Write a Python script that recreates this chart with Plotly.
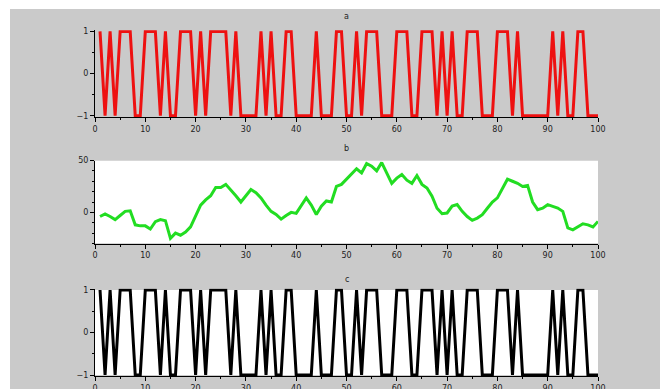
import plotly.graph_objects as go
from plotly.subplots import make_subplots

# ---- data ----
x_values = list(range(1, 101))

a_values = [1, -1, 1, -1, 1, 1, 1, -1, -1, 1,
            1, 1, -1, 1, -1, -1, 1, 1, 1, -1,
            1, -1, 1, 1, 1, 1, -1, 1, -1, -1,
            -1, -1, 1, -1, 1, -1, -1, 1, 1, -1,
            -1, -1, -1, 1, -1, -1, -1, 1, 1, -1,
            -1, 1, -1, 1, 1, 1, -1, -1, -1, 1,
            1, 1, -1, -1, 1, 1, 1, -1, 1, -1,
            1, -1, -1, 1, 1, 1, -1, -1, -1, 1,
            1, 1, -1, 1, -1, -1, -1, -1, -1, -1,
            1, -1, 1, -1, -1, 1, 1, -1, -1, -1]

b_values = [-4, -1.5, -4, -7, -3, 1, 1.5, -12, -13, -13,
            -16, -9, -7, -8, -25, -20, -22, -19, -14, -3,
            7, 12, 16, 24, 24, 27, 22, 16, 10, 16,
            22, 19, 14, 7, 1, -2, -6.5, -3, 0, -1,
            7, 14, 7, -2, 6, 11, 10, 25, 27, 32,
            37, 42, 38, 47, 44.5, 40, 48, 38, 28, 33,
            36.5, 31, 28, 35.5, 27, 23.5, 15.5, 4, -1.3, -0.6,
            6, 7.5, 1, -4, -7.7, -5.5, -2.3, 4, 10, 14,
            22.6, 32, 30, 28, 25, 26, 10, 2.6, 4, 7.4,
            5.8, 4.2, 1, -15, -16.8, -13.5, -11, -12, -14, -8.7]

# panel c shows the same binary sequence as panel a
c_values = list(a_values)

x_ticks = list(range(0, 101, 10))
titles = ["a", "b", "c"]

# ---- figure ----
W, H = 669, 389
GRAY = "#cacaca"

fig = make_subplots(rows=3, cols=1)

fig.add_trace(go.Scatter(x=x_values, y=a_values, mode="lines",
                         line=dict(color="#ee1111", width=3)), row=1, col=1)
fig.add_trace(go.Scatter(x=x_values, y=b_values, mode="lines",
                         line=dict(color="#22dd22", width=3)), row=2, col=1)
fig.add_trace(go.Scatter(x=x_values, y=c_values, mode="lines",
                         line=dict(color="#000000", width=3)), row=3, col=1)

xdom = [95 / W, 598 / W]
ydoms = [[1 - 117.0 / H, 1 - 30.2 / H],
         [1 - 243.5 / H, 1 - 160.5 / H],
         [1 - 376.3 / H, 1 - 288.7 / H]]
yranges = [[-1.03, 1.03], [-30, 50], [-1.03, 1.03]]
ydticks = [1, 50, 1]
yminor = [0.5, 10, 0.5]

axis_common = dict(showline=True, linecolor="black", linewidth=1,
                   showgrid=False, zeroline=False, ticks="outside",
                   ticklen=4, tickwidth=1, tickcolor="black",
                   tickfont=dict(family="DejaVu Sans", size=8, color="#222222"),
                   automargin=False, mirror=False)

for i in range(3):
    xa = "xaxis" if i == 0 else f"xaxis{i + 1}"
    ya = "yaxis" if i == 0 else f"yaxis{i + 1}"
    fig.layout[xa].update(domain=xdom, range=[0, 100], tickmode="array",
                          tickvals=x_ticks, ticktext=[str(t) for t in x_ticks],
                          minor=dict(dtick=5, tick0=0, ticks="outside", ticklen=2,
                                     tickcolor="black", showgrid=False),
                          anchor=f"y{'' if i == 0 else i + 1}", **axis_common)
    fig.layout[ya].update(domain=ydoms[i], range=yranges[i], tick0=0,
                          dtick=ydticks[i],
                          minor=dict(dtick=yminor[i], tick0=0, ticks="outside",
                                     ticklen=2, tickcolor="black", showgrid=False),
                          anchor=f"x{'' if i == 0 else i + 1}", **axis_common)

shapes = [
    # white plot areas of panels b and c
    dict(type="rect", xref="x2", yref="y2", x0=0, x1=100, y0=-30, y1=50,
         fillcolor="white", line=dict(width=0), layer="below"),
    dict(type="rect", xref="x3", yref="y3", x0=0, x1=100, y0=-1, y1=1,
         fillcolor="white", line=dict(width=0), layer="below"),
    # thin white border of the image (top, left, right)
    dict(type="rect", xref="paper", yref="paper", x0=0, x1=1,
         y0=1 - 9 / H, y1=1, fillcolor="white", line=dict(width=0), layer="above"),
    dict(type="rect", xref="paper", yref="paper", x0=0, x1=10 / W,
         y0=0, y1=1, fillcolor="white", line=dict(width=0), layer="above"),
    dict(type="rect", xref="paper", yref="paper", x0=660 / W, x1=1,
         y0=0, y1=1, fillcolor="white", line=dict(width=0), layer="above"),
]

title_y = [17, 148, 279]
annotations = [dict(text=titles[i], xref="paper", yref="paper",
                    x=346.5 / W, y=1 - title_y[i] / H, showarrow=False,
                    font=dict(family="DejaVu Sans", size=8, color="#222222"),
                    xanchor="center", yanchor="middle") for i in range(3)]

fig.update_layout(width=W, height=H, template="none",
                  margin=dict(l=0, r=0, t=0, b=0),
                  paper_bgcolor=GRAY, plot_bgcolor="rgba(0,0,0,0)",
                  showlegend=False, shapes=shapes, annotations=annotations)

fig.write_html("out.html", config={"displayModeBar": False},
               post_script="document.body.style.margin='0';"
                           "document.body.style.overflow='hidden';")
